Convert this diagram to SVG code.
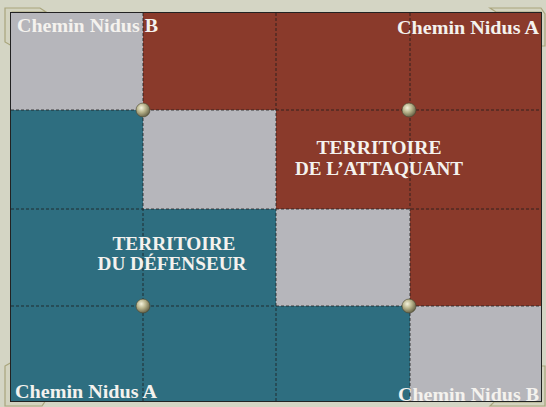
<svg xmlns="http://www.w3.org/2000/svg" width="546" height="407" viewBox="0 0 546 407">
  <defs>
    <radialGradient id="rivet" cx="0.38" cy="0.35" r="0.7">
      <stop offset="0" stop-color="#f4f2dc"/>
      <stop offset="0.45" stop-color="#b9b48c"/>
      <stop offset="1" stop-color="#5e5a40"/>
    </radialGradient>
    <style>
      .gray { fill: #b6b6bb; }
      .red { fill: #8a3a2b; }
      .teal { fill: #2e6e80; }
      .grid { stroke: #1c1c1c; stroke-width: 1; stroke-dasharray: 3 2; fill: none; opacity: 0.8; }
      .rivet { fill: url(#rivet); stroke: #4a4630; stroke-width: 0.6; }
      .path-label { font-family: "Liberation Serif", "Times New Roman", serif; font-weight: bold; font-size: 19px; fill: #f4f2ee; }
      .territory { font-family: "Liberation Serif", "Times New Roman", serif; font-weight: bold; font-size: 18px; fill: #f4f2ee; text-anchor: middle; }
      .tab { fill: #d3d3bf; stroke: #a9a57c; stroke-width: 1.2; }
    </style>
  </defs>

  <rect x="0" y="0" width="546" height="407" fill="#d4d5c4"/>

  <g id="corner-tabs">
    <path class="tab" d="M5,8 L40,8 L46,12 L12,12 L12,46 L5,42 Z"/>
    <path class="tab" d="M490,8 L541,8 L545,14 L545,46 L541,46 L541,12 L496,12 Z"/>
    <path class="tab" d="M5,366 L12,362 L12,400 L46,400 L42,406 L5,406 Z"/>
    <path class="tab" d="M541,366 L545,366 L545,406 L490,406 L494,402 L541,402 Z"/>
  </g>

  <g id="board">
    <rect x="10" y="12" width="532" height="390" fill="#222"/>
    <!-- row 0 -->
    <rect class="gray" x="11" y="13" width="132" height="97"/>
    <rect class="red" x="143" y="13" width="133" height="97"/>
    <rect class="red" x="276" y="13" width="134" height="97"/>
    <rect class="red" x="410" y="13" width="131" height="97"/>
    <!-- row 1 -->
    <rect class="teal" x="11" y="110" width="132" height="99"/>
    <rect class="gray" x="143" y="110" width="133" height="99"/>
    <rect class="red" x="276" y="110" width="134" height="99"/>
    <rect class="red" x="410" y="110" width="131" height="99"/>
    <!-- row 2 -->
    <rect class="teal" x="11" y="209" width="132" height="97"/>
    <rect class="teal" x="143" y="209" width="133" height="97"/>
    <rect class="gray" x="276" y="209" width="134" height="97"/>
    <rect class="red" x="410" y="209" width="131" height="97"/>
    <!-- row 3 -->
    <rect class="teal" x="11" y="306" width="132" height="95"/>
    <rect class="teal" x="143" y="306" width="133" height="95"/>
    <rect class="teal" x="276" y="306" width="134" height="95"/>
    <rect class="gray" x="410" y="306" width="131" height="95"/>
  </g>

  <g id="grid-lines">
    <line class="grid" x1="143" y1="13" x2="143" y2="401"/>
    <line class="grid" x1="276" y1="13" x2="276" y2="401"/>
    <line class="grid" x1="410" y1="13" x2="410" y2="401"/>
    <line class="grid" x1="11" y1="110" x2="541" y2="110"/>
    <line class="grid" x1="11" y1="209" x2="541" y2="209"/>
    <line class="grid" x1="11" y1="306" x2="541" y2="306"/>
  </g>

  <g id="rivets">
    <circle class="rivet" cx="143" cy="110" r="7"/>
    <circle class="rivet" cx="409" cy="110" r="7"/>
    <circle class="rivet" cx="143" cy="306" r="7"/>
    <circle class="rivet" cx="409" cy="306" r="7"/>
  </g>

  <g id="path-labels">
    <text class="path-label" x="17" y="32" textLength="141" lengthAdjust="spacingAndGlyphs">Chemin Nidus B</text>
    <text class="path-label" x="397" y="34" textLength="142" lengthAdjust="spacingAndGlyphs">Chemin Nidus A</text>
    <text class="path-label" x="15" y="398" textLength="142" lengthAdjust="spacingAndGlyphs">Chemin Nidus A</text>
    <text class="path-label" x="398" y="401" textLength="141" lengthAdjust="spacingAndGlyphs">Chemin Nidus B</text>
  </g>

  <g id="attacker-territory">
    <text class="territory" x="379" y="154" textLength="125" lengthAdjust="spacingAndGlyphs">TERRITOIRE</text>
    <text class="territory" x="379" y="175" textLength="168" lengthAdjust="spacingAndGlyphs">DE L’ATTAQUANT</text>
  </g>

  <g id="defender-territory">
    <text class="territory" x="174" y="250" textLength="123" lengthAdjust="spacingAndGlyphs">TERRITOIRE</text>
    <text class="territory" x="172" y="270" textLength="149" lengthAdjust="spacingAndGlyphs">DU DÉFENSEUR</text>
  </g>
</svg>
